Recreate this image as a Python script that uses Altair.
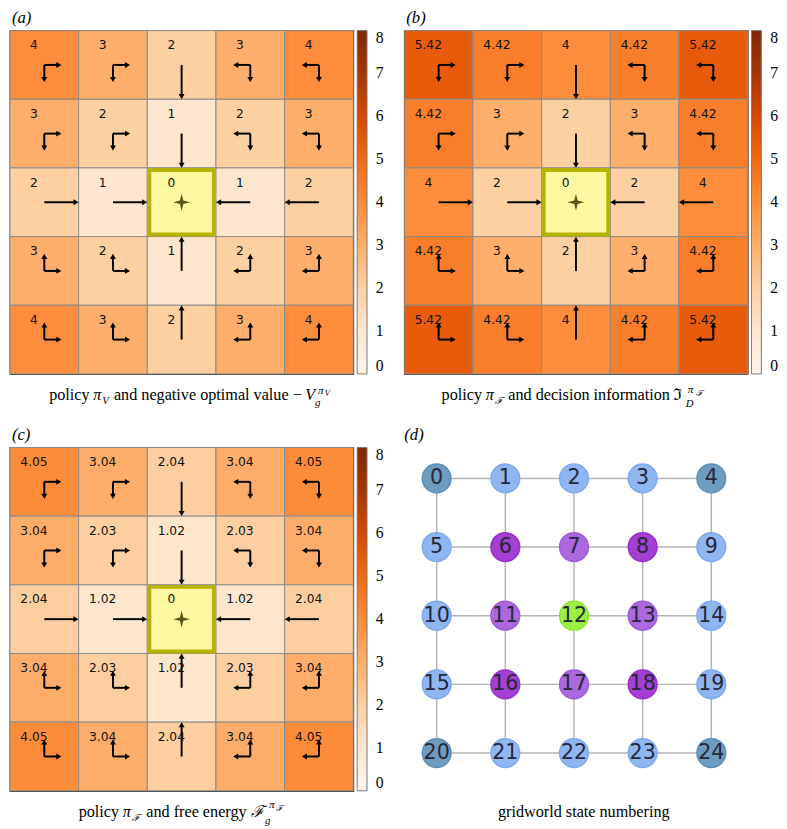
import altair as alt
import pandas as pd

# ---------------- data ----------------
N = 5
values_a = [[4, 3, 2, 3, 4], [3, 2, 1, 2, 3], [2, 1, 0, 1, 2], [3, 2, 1, 2, 3], [4, 3, 2, 3, 4]]
values_b = [[5.42, 4.42, 4, 4.42, 5.42], [4.42, 3, 2, 3, 4.42], [4, 2, 0, 2, 4],
            [4.42, 3, 2, 3, 4.42], [5.42, 4.42, 4, 4.42, 5.42]]
values_c = [[4.05, 3.04, 2.04, 3.04, 4.05], [3.04, 2.03, 1.02, 2.03, 3.04], [2.04, 1.02, 0, 1.02, 2.04],
            [3.04, 2.03, 1.02, 2.03, 3.04], [4.05, 3.04, 2.04, 3.04, 4.05]]
policy = [["RD", "RD", "D", "LD", "LD"],
          ["RD", "RD", "D", "LD", "LD"],
          ["R", "R", "", "L", "L"],
          ["UR", "UR", "U", "UL", "UL"],
          ["UR", "UR", "U", "UL", "UL"]]
goal_cell = (2, 2)
colorbar_ticks = [0, 1, 2, 3, 4, 5, 6, 7, 8]
oranges = ["#fff5eb", "#fee6ce", "#fdd0a2", "#fdae6b", "#fd8d3c", "#f16913", "#d94801", "#a63603", "#7f2704"]

state_group = ["corner", "side", "side", "side", "corner",
               "side", "diag", "cross", "diag", "side",
               "side", "cross", "goal", "cross", "side",
               "side", "diag", "cross", "diag", "side",
               "corner", "side", "side", "side", "corner"]
group_names = ["corner", "side", "diag", "cross", "goal"]
group_fill = ["#6e9cc1", "#8fb6f1", "#a33fd2", "#ab68df", "#9cef45"]
group_edge = ["#5f8fb6", "#7ea9ee", "#9630cc", "#a05bd9", "#8fe636"]

SERIF = "Liberation Serif, DejaVu Serif, serif"
SANS = "DejaVu Sans"
W = 350
STAR = "M0,-1L0.2,-0.2L1,0L0.2,0.2L0,1L-0.2,0.2L-1,0L-0.2,-0.2Z"
DIRS = {"R": (1, 0), "L": (-1, 0), "D": (0, 1), "U": (0, -1)}
HEADS = {"R": "triangle-right", "L": "triangle-left", "D": "triangle-down", "U": "triangle-up"}


def cell_frame(vals):
    rows = []
    for r in range(N):
        for c in range(N):
            rows.append(dict(row=r, col=c, value=vals[r][c], label=f"{vals[r][c]:g}",
                             goal=(r, c) == goal_cell))
    return pd.DataFrame(rows)


def arrow_frame():
    rows = []
    for r in range(N):
        for c in range(N):
            acts = policy[r][c]
            for a in acts:
                L = 0.5 / len(acts)
                dx, dy = DIRS[a]
                cx, cy = c + 0.5, r + 0.5
                ex, ey = cx + L * dx, cy + L * dy
                rows.append(dict(x=cx, y=cy, xe=ex - 0.05 * dx, ye=ey - 0.05 * dy,
                                 hx=ex - 0.038 * dx, hy=ey - 0.038 * dy, shape=HEADS[a]))
    return pd.DataFrame(rows)


def text_layers(pieces, baseline="alphabetic"):
    out = []
    for txt, px, py, size, style in pieces:
        out.append(alt.Chart(pd.DataFrame({"t": [txt]})).mark_text(
            align="left", baseline=baseline, font=SERIF, fontSize=size,
            fontStyle=style, color="black").encode(
            text="t:N", x=alt.value(px), y=alt.value(py)))
    return out


def letter_layer(letter):
    return text_layers([(letter, 2, -21, 17, "italic")], baseline="top")


sx = alt.Scale(domain=[0, 5], nice=False, zero=False)
sy = alt.Scale(domain=[0, 5], nice=False, zero=False, reverse=True)


def heat_panel(vals, letter, cap):
    df = cell_frame(vals)
    base = alt.Chart(df)
    rect = base.transform_calculate(c1="datum.col+1", r1="datum.row+1").mark_rect(
        stroke="#8a8a8a", strokeWidth=1).encode(
        x=alt.X("col:Q", scale=sx, axis=None), x2="c1:Q",
        y=alt.Y("row:Q", scale=sy, axis=None), y2="r1:Q",
        color=alt.Color("value:Q",
                        scale=alt.Scale(domain=colorbar_ticks, range=oranges, interpolate="rgb"),
                        legend=alt.Legend(title=None, values=colorbar_ticks, format="d",
                                          gradientLength=W, gradientThickness=10, offset=4, padding=0,
                                          labelFont="Liberation Serif", labelFontSize=16,
                                          labelColor="black",
                                          labelOffset=9, labelBaseline="middle", labelOverlap=False,
                                          gradientStrokeColor="#777", gradientStrokeWidth=1)))
    goal = base.transform_filter("datum.goal").transform_calculate(
        c0="datum.col+0.03", c1="datum.col+0.97", r0="datum.row+0.03", r1="datum.row+0.97").mark_rect(
        fill="#fff8a2", stroke="#b6b400", strokeWidth=4).encode(
        x=alt.X("c0:Q", scale=sx, axis=None), x2="c1:Q",
        y=alt.Y("r0:Q", scale=sy, axis=None), y2="r1:Q")
    star = base.transform_filter("datum.goal").transform_calculate(
        cx="datum.col+0.5", cy="datum.row+0.5").mark_point(
        shape=STAR, filled=True, size=300, color="#585818", opacity=1).encode(
        x=alt.X("cx:Q", scale=sx, axis=None), y=alt.Y("cy:Q", scale=sy, axis=None))
    adf = arrow_frame()
    lines = alt.Chart(adf).mark_rule(color="black", strokeWidth=2).encode(
        x=alt.X("x:Q", scale=sx, axis=None), y=alt.Y("y:Q", scale=sy, axis=None),
        x2="xe:Q", y2="ye:Q")
    heads = alt.Chart(adf).mark_point(filled=True, size=36, color="black", opacity=1).encode(
        x=alt.X("hx:Q", scale=sx, axis=None), y=alt.Y("hy:Q", scale=sy, axis=None),
        shape=alt.Shape("shape:N", scale=None))
    text = base.transform_calculate(cx="datum.col+0.5", cy="datum.row+0.5").mark_text(
        dx=-10.5, dy=-20, font=SANS, fontSize=12.5, color="#111").encode(
        x=alt.X("cx:Q", scale=sx, axis=None), y=alt.Y("cy:Q", scale=sy, axis=None), text="label:N")
    layers = [rect, goal, star, lines, heads, text] + letter_layer(letter) + text_layers(cap)
    return alt.layer(*layers).properties(
        width=W, height=W, view=alt.ViewBackground(stroke="black", strokeWidth=1.2))


cap_a = [("policy", 40, 377, 16.5, "normal"),
         ("π", 85, 377, 16.5, "italic"),
         ("V", 94, 381, 11, "italic"),
         ("and negative optimal value −", 106, 377, 16.5, "normal"),
         ("V", 301, 377, 16.5, "italic"),
         ("g", 311, 383, 11, "italic"),
         ("π", 314, 370, 11.5, "italic"),
         ("V", 321, 373, 8.5, "italic")]
cap_b = [("policy", 38, 377, 16.5, "normal"),
         ("π", 83, 377, 16.5, "italic"),
         ("ℱ", 92, 381, 10, "italic"),
         ("and decision information", 106, 377, 16.5, "normal"),
         ("ℑ", 274, 377, 16.5, "normal"),
         ("D", 287, 384, 11, "italic"),
         ("π", 289, 369, 11.5, "italic"),
         ("ℱ", 297, 372, 8.5, "italic")]
cap_c = [("policy", 70, 377, 16.5, "normal"),
         ("π", 115, 377, 16.5, "italic"),
         ("ℱ", 124, 381, 10, "italic"),
         ("and free energy", 139, 377, 16.5, "normal"),
         ("ℱ", 246, 377, 16.5, "italic"),
         ("g", 260, 384, 11, "italic"),
         ("π", 264, 368, 11.5, "italic"),
         ("ℱ", 271, 371, 8.5, "italic")]

panel_a = heat_panel(values_a, "(a)", cap_a)
panel_b = heat_panel(values_b, "(b)", cap_b)
panel_c = heat_panel(values_c, "(c)", cap_c)

# ---------------- panel d ----------------
nodes = pd.DataFrame({"state": list(range(N * N)),
                      "row": [s // N for s in range(N * N)],
                      "col": [s % N for s in range(N * N)],
                      "group": state_group})
edge_rows = []
for r in range(N):
    for c in range(N):
        if c + 1 < N:
            edge_rows.append(dict(c1=c, r1=r, c2=c + 1, r2=r))
        if r + 1 < N:
            edge_rows.append(dict(c1=c, r1=r, c2=c, r2=r + 1))
edges = pd.DataFrame(edge_rows)
gx = alt.Scale(domain=[-0.5, 4.5], nice=False, zero=False)
gy = alt.Scale(domain=[-0.45, 4.55], nice=False, zero=False, reverse=True)
edge_layer = alt.Chart(edges).mark_rule(color="#b3b3b3", strokeWidth=1.5).encode(
    x=alt.X("c1:Q", scale=gx, axis=None), y=alt.Y("r1:Q", scale=gy, axis=None),
    x2="c2:Q", y2="r2:Q")
node_layer = alt.Chart(nodes).mark_circle(size=860, opacity=1, strokeWidth=1.5).encode(
    x=alt.X("col:Q", scale=gx, axis=None), y=alt.Y("row:Q", scale=gy, axis=None),
    color=alt.Color("group:N", scale=alt.Scale(domain=group_names, range=group_fill), legend=None),
    stroke=alt.Stroke("group:N", scale=alt.Scale(domain=group_names, range=group_edge), legend=None))
node_text = alt.Chart(nodes).mark_text(font=SANS, fontSize=21, color="#272738").encode(
    x=alt.X("col:Q", scale=gx, axis=None), y=alt.Y("row:Q", scale=gy, axis=None), text="state:N")
cap_d = alt.Chart(pd.DataFrame({"t": ["gridworld state numbering"]})).mark_text(
    align="center", baseline="alphabetic", font=SERIF, fontSize=16.5, color="black").encode(
    text="t:N", x=alt.value(185), y=alt.value(377))
panel_d = alt.layer(edge_layer, node_layer, node_text, cap_d,
                    *letter_layer("(d)")).properties(width=W, height=W)

row1 = alt.hconcat(panel_a, panel_b, spacing=18).resolve_scale(color="independent").resolve_legend(color="independent")
row2 = alt.hconcat(panel_c, panel_d, spacing=18).resolve_scale(color="independent", stroke="independent").resolve_legend(color="independent")
chart = alt.vconcat(row1, row2, spacing=15).resolve_scale(
    color="independent", stroke="independent").resolve_legend(color="independent").properties(
    padding={"top": -8, "left": 0, "right": 0, "bottom": 0}).configure_view(stroke=None)

chart.save("out.html", embed_options={"renderer": "svg", "actions": False})
